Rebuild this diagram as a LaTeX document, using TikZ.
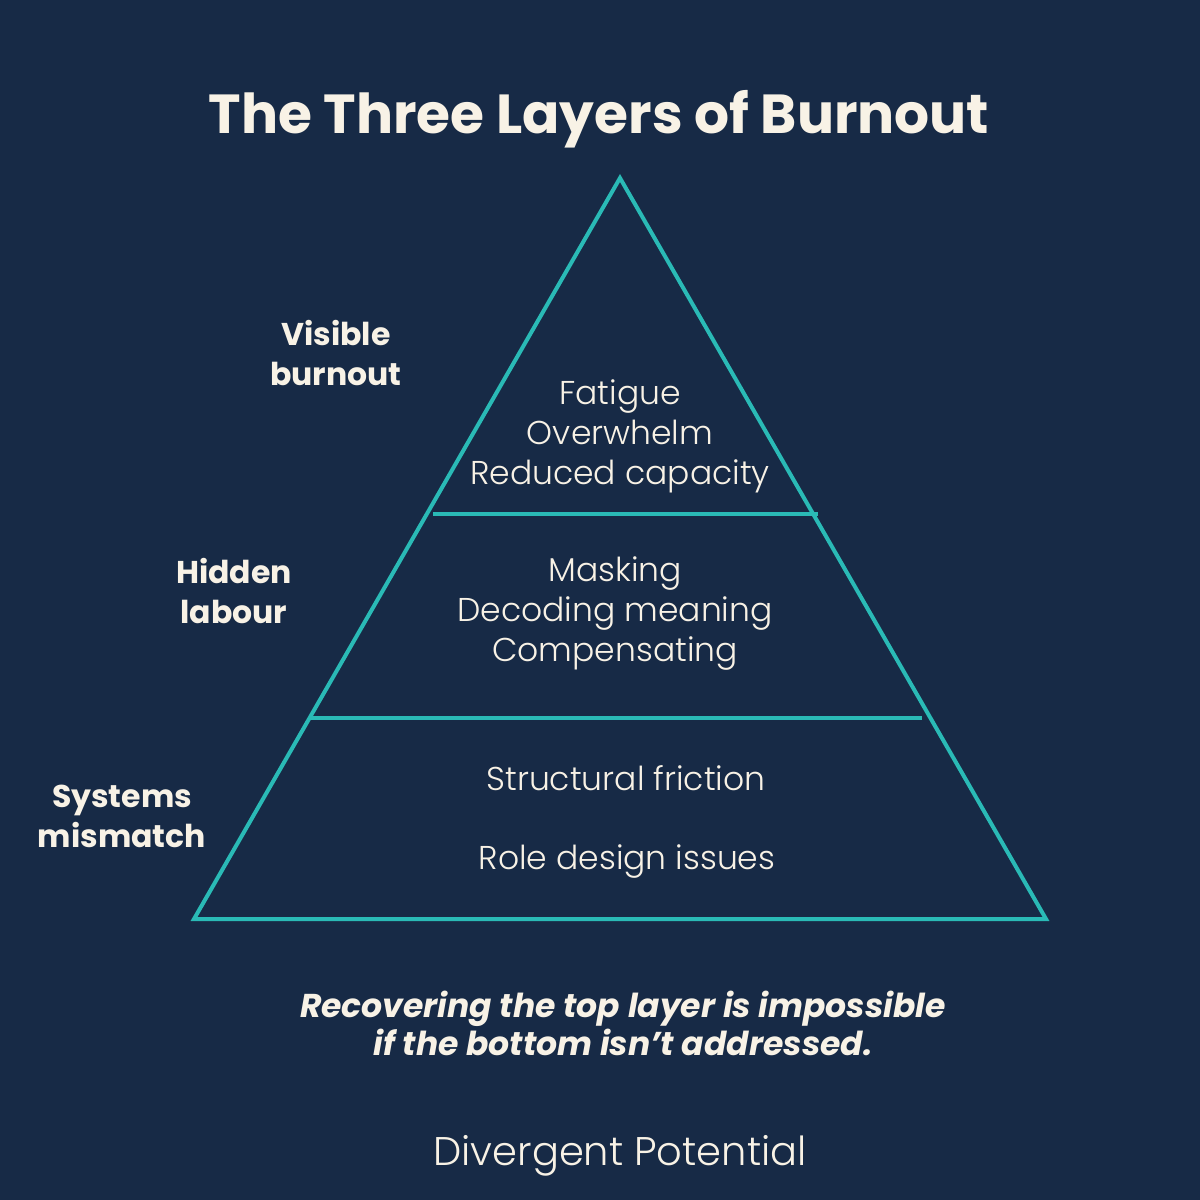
\documentclass[tikz,border=0pt]{standalone}
\usepackage{fontspec}
\setmainfont{Poppins}
\newfontfamily\lightfont{Poppins Light}
\definecolor{navy}{HTML}{172A46}
\definecolor{teal}{HTML}{2ABAB6}
\definecolor{cream}{HTML}{F8F2E6}
\begin{document}
\begin{tikzpicture}[x=1pt,y=-1pt,
  edge/.style={draw=teal, line width=4pt},
  txt/.style={text=cream, inner sep=0pt, align=center, anchor=base},
  itemtxt/.style={txt, font=\lightfont\fontsize{33}{40}\selectfont},
  labeltxt/.style={txt, font=\fontsize{31.5}{40}\selectfont\bfseries}]
\fill[navy] (0,0) rectangle (1200,1200);
\useasboundingbox (0,0) rectangle (1200,1200);
% pyramid
\coordinate (apex) at (620,178);
\coordinate (bl) at (194,919);
\coordinate (br) at (1046,919);
\coordinate (d1l) at (433,514);
\coordinate (d1r) at (818,514);
\coordinate (d2l) at (310,718);
\coordinate (d2r) at (922,718);
\draw[edge, line join=miter] (apex) -- (bl) -- (br) -- cycle;
\draw[edge] (d1l) -- (d1r);
\draw[edge] (d2l) -- (d2r);
% title
\node[txt, font=\fontsize{55}{60}\selectfont\bfseries] (title) at (599,133) {The Three Layers of Burnout};
% layer contents (base = baseline of last line)
\node[itemtxt] (top) at (620,484) {Fatigue\\Overwhelm\\Reduced capacity};
\node[itemtxt] (mid) at (615,661) {Masking\\Decoding meaning\\Compensating};
\node[itemtxt] (bot1) at (626,790) {Structural friction};
\node[itemtxt] (bot2) at (627,869) {Role design issues};
% side labels
\node[labeltxt] (lab1) at (336,385) {Visible\\burnout};
\node[labeltxt] (lab2) at (234,623) {Hidden\\labour};
\node[labeltxt] (lab3) at (122,847) {Systems\\mismatch};
% tagline
\node[txt, font=\fontsize{33}{38}\selectfont\bfseries\itshape] (tag) at (623,1055) {Recovering the top layer is impossible\\if the bottom isn’t addressed.};
% footer
\node[txt, font=\lightfont\fontsize{40}{40}\selectfont] (brand) at (620,1165) {Divergent Potential};
\end{tikzpicture}
\end{document}
